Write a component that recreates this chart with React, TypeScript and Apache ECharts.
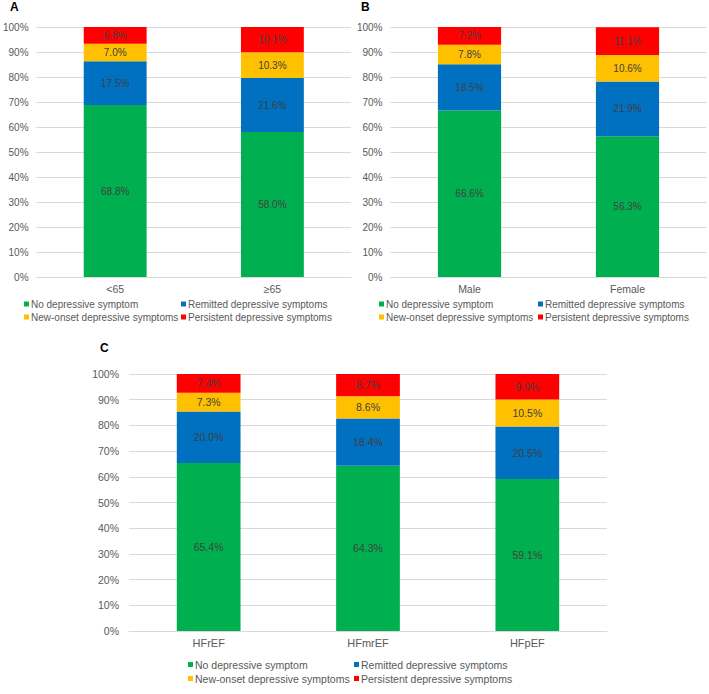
import React, { useEffect, useRef } from "react";
import * as echarts from "echarts";

const seriesNames = [
  "No depressive symptom",
  "Remitted depressive symptoms",
  "New-onset depressive symptoms",
  "Persistent depressive symptoms",
];
const seriesColors = ["#00B050", "#0070C0", "#FFC000", "#FF0000"];

const ageCategories = ["<65", "≥65"];
const ageNoSymptom = [68.8, 58.0];
const ageRemitted = [17.5, 21.6];
const ageNewOnset = [7.0, 10.3];
const agePersistent = [6.8, 10.1];

const sexCategories = ["Male", "Female"];
const sexNoSymptom = [66.6, 56.3];
const sexRemitted = [18.5, 21.9];
const sexNewOnset = [7.8, 10.6];
const sexPersistent = [7.2, 11.1];

const hfCategories = ["HFrEF", "HFmrEF", "HFpEF"];
const hfNoSymptom = [65.4, 64.3, 59.1];
const hfRemitted = [20.0, 18.4, 20.5];
const hfNewOnset = [7.3, 8.6, 10.5];
const hfPersistent = [7.4, 8.7, 9.9];

const panelLetters = ["A", "B", "C"];

const FONT = "'Liberation Sans', Arial, sans-serif";
const GRAY = "#595959";
const GRID = "#D9D9D9";

export default function App() {
  const ref = useRef<HTMLDivElement>(null);
  useEffect(() => {
    if (!ref.current) return;
    const chart = echarts.init(ref.current, undefined, { renderer: "svg" });

    const panels = [
      { cats: ageCategories, data: [ageNoSymptom, ageRemitted, ageNewOnset, agePersistent], fs: 10, lfs: 10 },
      { cats: sexCategories, data: [sexNoSymptom, sexRemitted, sexNewOnset, sexPersistent], fs: 10, lfs: 10 },
      { cats: hfCategories, data: [hfNoSymptom, hfRemitted, hfNewOnset, hfPersistent], fs: 10.5, lfs: 10.5 },
    ];

    const grids = [
      { left: 36, top: 27, width: 315, height: 250 },
      { left: 390.5, top: 27, width: 316, height: 250 },
      { left: 129, top: 374, width: 478, height: 257 },
    ];

    const xAxes = panels.map((p, i) => ({
      type: "category",
      gridIndex: i,
      data: p.cats,
      axisLine: { show: true, lineStyle: { color: GRID, width: 1 } },
      axisTick: { show: false },
      axisLabel: { color: GRAY, fontSize: p.fs + 0.5, fontFamily: FONT, margin: 6 },
    }));

    const yAxes = panels.map((p, i) => ({
      type: "value",
      gridIndex: i,
      min: 0,
      max: 100,
      interval: 10,
      axisLine: { show: false },
      axisTick: { show: false },
      splitLine: { show: true, lineStyle: { color: GRID, width: 1 } },
      axisLabel: {
        color: GRAY,
        fontSize: p.fs,
        fontFamily: FONT,
        margin: i === 2 ? 10 : 8,
        formatter: "{value}%",
      },
    }));

    const series: any[] = [];
    panels.forEach((p, i) => {
      p.data.forEach((vals, k) => {
        series.push({
          type: "bar",
          name: seriesNames[k],
          xAxisIndex: i,
          yAxisIndex: i,
          stack: "panel" + i,
          barWidth: "40%",
          itemStyle: { color: seriesColors[k] },
          label: {
            show: true,
            position: "inside",
            color: "#404040",
            fontSize: p.fs,
            fontFamily: FONT,
            formatter: (q: any) => Number(q.value).toFixed(1) + "%",
          },
          data: vals,
        });
      });
    });

    const legendDefs = [
      { left: 24, top: 299, fs: 10, data: [seriesNames[0], seriesNames[2]] },
      { left: 181, top: 299, fs: 10, data: [seriesNames[1], seriesNames[3]] },
      { left: 379, top: 299, fs: 10, data: [seriesNames[0], seriesNames[2]] },
      { left: 538, top: 299, fs: 10, data: [seriesNames[1], seriesNames[3]] },
      { left: 188, top: 659, fs: 10.5, data: [seriesNames[0], seriesNames[2]] },
      { left: 354, top: 659, fs: 10.5, data: [seriesNames[1], seriesNames[3]] },
    ];
    const legends = legendDefs.map((l) => ({
      orient: "vertical",
      left: l.left,
      top: l.top,
      padding: 0,
      itemGap: 3,
      itemWidth: 5,
      itemHeight: 5,
      icon: "rect",
      selectedMode: false,
      textStyle: { color: GRAY, fontSize: l.fs, fontFamily: FONT, padding: [0, 0, 0, -3] },
      data: l.data,
    }));

    const titles = [
      { left: 10, top: 1 },
      { left: 361, top: 1 },
      { left: 100, top: 342 },
    ].map((t, i) => ({
      text: panelLetters[i],
      left: t.left,
      top: t.top,
      padding: 0,
      textStyle: { color: "#000", fontSize: 12, fontWeight: "bold", fontFamily: FONT },
    }));

    chart.setOption({
      animation: false,
      backgroundColor: "#fff",
      textStyle: { fontFamily: FONT },
      title: titles,
      grid: grids,
      xAxis: xAxes,
      yAxis: yAxes,
      legend: legends,
      series,
    });
    return () => chart.dispose();
  }, []);

  return (
    <div
      ref={ref}
      style={{ position: "fixed", left: 0, top: 0, width: 709, height: 694, background: "#fff" }}
    />
  );
}
